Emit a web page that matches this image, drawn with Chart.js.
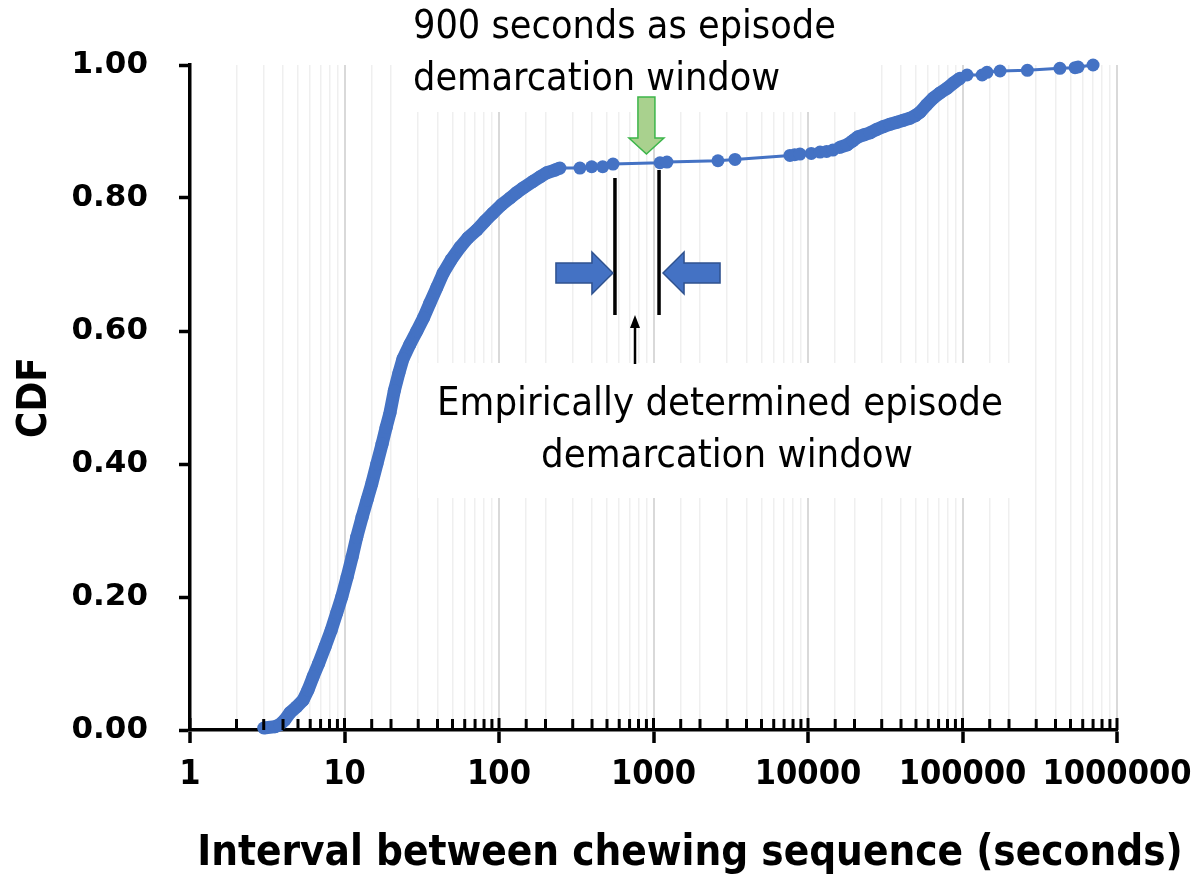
<!DOCTYPE html>
<html>
<head>
<meta charset="utf-8">
<script src="https://cdn.jsdelivr.net/npm/chart.js@4.4.0/dist/chart.umd.min.js"></script>
<style>
  body { margin: 0; background: #fff; }
  #wrap { width: 1204px; height: 877px; }
</style>
</head>
<body>
<div id="wrap"><canvas id="cdfChart" width="1204" height="877"></canvas></div>
<script>
// interval (seconds) and CDF
const intervals = [3, 3.55, 3.8, 4.1, 4.44, 4.9, 5.4, 5.8, 6.26, 6.8, 7.48, 8.2, 8.9, 9.6, 10.4, 11.2, 12.0, 13.0,
  14.0, 15.0, 16.2, 17.5, 18.6, 19.7, 21.0, 22.5, 23.9, 26.5, 29.4, 32.5, 35.7, 39.5, 43.5, 49, 56, 63, 72, 81,
  91, 104, 118, 130, 143, 166, 185, 204, 230, 248, 334, 398, 469, 547, 1102, 1222, 2612, 3370, 7640, 8200, 8870,
  10500, 11970, 13200, 14500, 16000, 17900, 19500, 21100, 23000, 25200, 27800, 30500, 34000, 37700, 41500, 45700,
  49500, 53100, 58500, 64600, 71500, 79500, 87500, 96300, 107000, 134000, 144000, 175000, 263000, 427000, 535000,
  560000, 700000];
const cdfValues = [0.003, 0.005, 0.008, 0.015, 0.026, 0.035, 0.045, 0.06, 0.08, 0.10, 0.125, 0.15, 0.176, 0.20,
  0.23, 0.26, 0.29, 0.32, 0.346, 0.37, 0.40, 0.43, 0.455, 0.477, 0.51, 0.537, 0.558, 0.58, 0.60, 0.62, 0.642, 0.665,
  0.687, 0.707, 0.726, 0.74, 0.752, 0.765, 0.777, 0.79, 0.80, 0.808, 0.815, 0.825, 0.832, 0.838, 0.842, 0.845, 0.845,
  0.847, 0.847, 0.851, 0.853, 0.854, 0.856, 0.858, 0.864, 0.865, 0.866, 0.867, 0.869, 0.870, 0.872, 0.876, 0.88,
  0.886, 0.892, 0.895, 0.898, 0.903, 0.907, 0.911, 0.914, 0.917, 0.92, 0.924, 0.929, 0.94, 0.95, 0.958, 0.965,
  0.973, 0.98, 0.985, 0.985, 0.989, 0.991, 0.992, 0.995, 0.996, 0.997, 1.0];

const xTickLabels = ['1', '10', '100', '1000', '10000', '100000', '1000000'];
const yTickLabels = ['0.00', '0.20', '0.40', '0.60', '0.80', '1.00'];

const episodeWindow = 900;          // green arrow
const empiricalWindow = [563, 1086]; // black bars

const blue = '#4472c4';
const condensed = '"DejaVu Sans Condensed", "Liberation Sans Narrow", "Open Sans", sans-serif';

function isDecade(v) {
  const l = Math.log10(v);
  return Math.abs(l - Math.round(l)) < 1e-9;
}

function fitSize(ctx, text, weight, family, width) {
  ctx.font = weight + ' 100px ' + family;
  return 100 * width / ctx.measureText(text).width;
}

const annotations = {
  id: 'annotations',
  beforeDatasetsDraw(chart) {
    const ctx = chart.ctx;
    ctx.save();
    ctx.fillStyle = '#fff';
    ctx.fillRect(405, 0, 467, 112);
    ctx.fillRect(418, 363, 594, 135);
    ctx.restore();
  },
  afterDatasetsDraw(chart) {
    const ctx = chart.ctx;
    const xs = chart.scales.x;
    const area = chart.chartArea;
    ctx.save();

    // inner tick marks on x axis
    ctx.strokeStyle = '#000';
    ctx.lineWidth = 3;
    xs.ticks.forEach(t => {
      const px = xs.getPixelForValue(t.value);
      ctx.beginPath();
      ctx.moveTo(px, area.bottom);
      ctx.lineTo(px, area.bottom - (isDecade(t.value) ? 12 : 11));
      ctx.stroke();
    });

    // green arrow at 900 s
    const gx = xs.getPixelForValue(episodeWindow);
    ctx.beginPath();
    ctx.moveTo(gx - 8.5, 97);
    ctx.lineTo(gx + 8.5, 97);
    ctx.lineTo(gx + 8.5, 138);
    ctx.lineTo(gx + 17.5, 138);
    ctx.lineTo(gx, 154);
    ctx.lineTo(gx - 17.5, 138);
    ctx.lineTo(gx - 8.5, 138);
    ctx.closePath();
    ctx.fillStyle = '#a9d18e';
    ctx.fill();
    ctx.strokeStyle = '#3cb54a';
    ctx.lineWidth = 1.5;
    ctx.stroke();

    // black bars
    const b0 = xs.getPixelForValue(empiricalWindow[0]);
    const b1 = xs.getPixelForValue(empiricalWindow[1]);
    ctx.strokeStyle = '#000';
    ctx.lineWidth = 3.5;
    ctx.beginPath();
    ctx.moveTo(b0, 178); ctx.lineTo(b0, 315);
    ctx.moveTo(b1, 170); ctx.lineTo(b1, 315);
    ctx.stroke();

    // blue block arrows
    function blockArrow(tip, dir) {
      const base = tip - dir * 21, tail = tip - dir * 57;
      ctx.beginPath();
      ctx.moveTo(tail, 263);
      ctx.lineTo(base, 263);
      ctx.lineTo(base, 252);
      ctx.lineTo(tip, 273);
      ctx.lineTo(base, 294);
      ctx.lineTo(base, 283);
      ctx.lineTo(tail, 283);
      ctx.closePath();
      ctx.fillStyle = blue;
      ctx.fill();
      ctx.strokeStyle = '#2f528f';
      ctx.lineWidth = 1.5;
      ctx.stroke();
    }
    blockArrow(b0 - 2, 1);
    blockArrow(b1 + 4, -1);

    // thin arrow
    ctx.strokeStyle = '#000';
    ctx.lineWidth = 2.5;
    ctx.beginPath();
    ctx.moveTo(635, 364); ctx.lineTo(635, 326);
    ctx.stroke();
    ctx.beginPath();
    ctx.moveTo(635, 315); ctx.lineTo(640, 328); ctx.lineTo(630, 328);
    ctx.closePath();
    ctx.fillStyle = '#000';
    ctx.fill();

    // texts
    ctx.fillStyle = '#000';
    ctx.textBaseline = 'middle';
    let s = fitSize(ctx, '900 seconds as episode', 'normal', condensed, 423);
    ctx.font = 'normal ' + s + 'px ' + condensed;
    ctx.textAlign = 'left';
    ctx.fillText('900 seconds as episode', 413, 28);
    ctx.fillText('demarcation window', 413, 80);

    s = fitSize(ctx, 'Empirically determined episode', 'normal', condensed, 566);
    ctx.font = 'normal ' + s + 'px ' + condensed;
    ctx.textAlign = 'center';
    ctx.fillText('Empirically determined episode', 720, 405);
    ctx.fillText('demarcation window', 727, 457);

    const xt = 'Interval between chewing sequence (seconds)';
    s = fitSize(ctx, xt, 'bold', condensed, 986);
    ctx.font = 'bold ' + s + 'px ' + condensed;
    ctx.fillText(xt, 690, 854);

    ctx.restore();
  }
};

const points = intervals.map((x, i) => ({ x: x, y: cdfValues[i] }));

const chartConfig = {
  type: 'scatter',
  data: {
    datasets: [{
      data: points,
      showLine: true,
      borderColor: blue,
      backgroundColor: blue,
      borderWidth: 3,
      pointRadius: 6.5,
      pointBorderWidth: 0,
      pointBackgroundColor: blue,
      clip: false,
      segment: {
        borderWidth: ctx => {
          const a = intervals[ctx.p0DataIndex], b = intervals[ctx.p1DataIndex];
          return (b <= 250 || (a >= 16000 && b <= 100000)) ? 13 : 3;
        }
      }
    }]
  },
  options: {
    responsive: false,
    animation: false,
    layout: { padding: { top: 65, right: 87, left: 0, bottom: 0 } },
    plugins: { legend: { display: false }, tooltip: { enabled: false } },
    scales: {
      x: {
        type: 'logarithmic',
        min: 1,
        max: 1000000,
        afterFit: s => { s.height = 147; },
        border: { display: true, color: '#000', width: 3.5 },
        grid: {
          color: c => (c.tick && isDecade(c.tick.value)) ? '#d9d9d9' : '#efefef',
          lineWidth: c => (c.tick && isDecade(c.tick.value)) ? 2 : 1.5,
          tickColor: c => (c.tick && isDecade(c.tick.value)) ? '#000' : 'rgba(0,0,0,0)',
          tickLength: 13,
          tickWidth: 3.5
        },
        ticks: {
          autoSkip: false,
          maxRotation: 0,
          padding: 12,
          color: '#000',
          font: { family: condensed, weight: 'bold', size: 34 },
          callback: v => {
            if (!isDecade(v)) return '';
            return xTickLabels[Math.round(Math.log10(v))];
          }
        }
      },
      y: {
        min: 0,
        max: 1,
        afterFit: s => { s.width = 190; },
        border: { display: true, color: '#000', width: 3.5 },
        grid: {
          drawOnChartArea: false,
          color: 'rgba(0,0,0,0)',
          tickColor: '#000',
          tickLength: 11,
          tickWidth: 3.5
        },
        ticks: {
          stepSize: 0.2,
          padding: 31,
          color: '#000',
          font: { family: '"DejaVu Sans", Verdana, sans-serif', weight: 'bold', size: 31 },
          callback: (v, i) => yTickLabels[Math.round(v * 5)]
        },
        title: {
          display: true,
          text: 'CDF',
          color: '#000',
          font: { family: condensed, weight: 'bold', size: 40 },
          padding: { top: 12, bottom: 0 }
        }
      }
    }
  },
  plugins: [annotations]
};

let chartID = document.getElementById('cdfChart');
let chart = new Chart(chartID, chartConfig);
</script>
</body>
</html>
